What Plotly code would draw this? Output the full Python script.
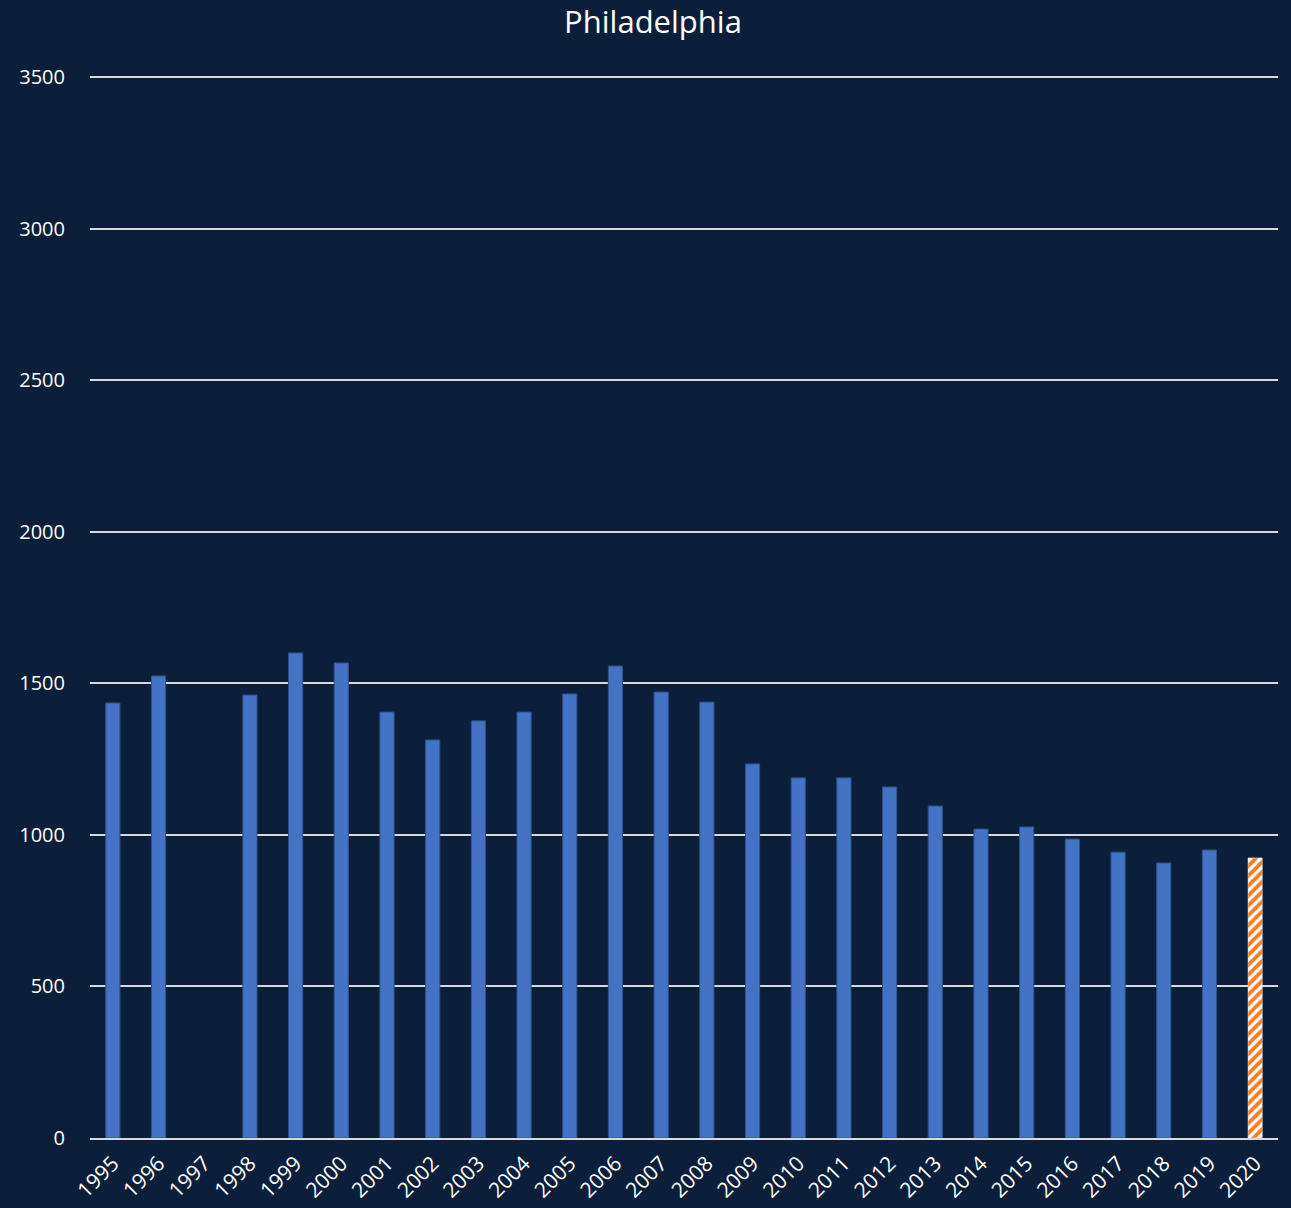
import plotly.graph_objects as go

years = ["1995", "1996", "1997", "1998", "1999", "2000", "2001", "2002", "2003", "2004",
         "2005", "2006", "2007", "2008", "2009", "2010", "2011", "2012", "2013", "2014",
         "2015", "2016", "2017", "2018", "2019", "2020"]
values = [1435, 1524, None, 1461, 1600, 1567, 1405, 1313, 1376, 1405,
          1465, 1557, 1471, 1438, 1234, 1188, 1188, 1158, 1095, 1019,
          1026, 986, 943, 907, 950, 924]
projected_years = ["2020"]
y_ticks = [0, 500, 1000, 1500, 2000, 2500, 3000, 3500]

BLUE = "#4472C4"
ORANGE = "#F47C25"
BG = "#0B1F3A"

actual_x = [y for y in years if y not in projected_years]
actual_y = [v for y, v in zip(years, values) if y not in projected_years]
proj_y = [v for y, v in zip(years, values) if y in projected_years]

fig = go.Figure()
fig.add_trace(go.Bar(
    x=actual_x, y=actual_y, width=0.31,
    marker=dict(color=BLUE, line=dict(color="#2F528F", width=1)),
))
fig.add_trace(go.Bar(
    x=projected_years, y=proj_y, width=0.31,
    marker=dict(color="#FFFFFF", line=dict(color="#FFFFFF", width=0.5),
                pattern=dict(shape="/", fgcolor=ORANGE, fgopacity=1,
                             size=7, solidity=0.55, fillmode="overlay")),
))

fig.update_layout(
    width=1291, height=1208,
    paper_bgcolor=BG, plot_bgcolor=BG,
    margin=dict(l=90, r=13, t=74, b=70),
    title=dict(text="Philadelphia", x=653 / 1291, xanchor="center", y=1 - 22 / 1208, yanchor="middle",
               font=dict(family="Open Sans", size=31, color="#FFFFFF")),
    font=dict(family="Open Sans", color="#FFFFFF"),
    showlegend=False,
    barmode="overlay",
)
fig.update_xaxes(type="category", categoryorder="array", categoryarray=years,
                 tickangle=-45, tickfont=dict(size=21, color="#FFFFFF"),
                 showline=True, linecolor="#D9D9D9", linewidth=2, showgrid=False,
                 ticks="", automargin=False, ticklabelstandoff=3)
fig.update_yaxes(range=[0, 3510], tickvals=y_ticks,
                 tickfont=dict(size=20, color="#FFFFFF"),
                 showgrid=True, gridcolor="#D9D9D9", gridwidth=2, zeroline=False,
                 ticks="outside", ticklen=20, tickcolor=BG, showline=False)

fig.write_html("out.html", config={"displayModeBar": False},
               post_script="document.body.style.margin='0';document.body.style.background='%s';" % BG)
